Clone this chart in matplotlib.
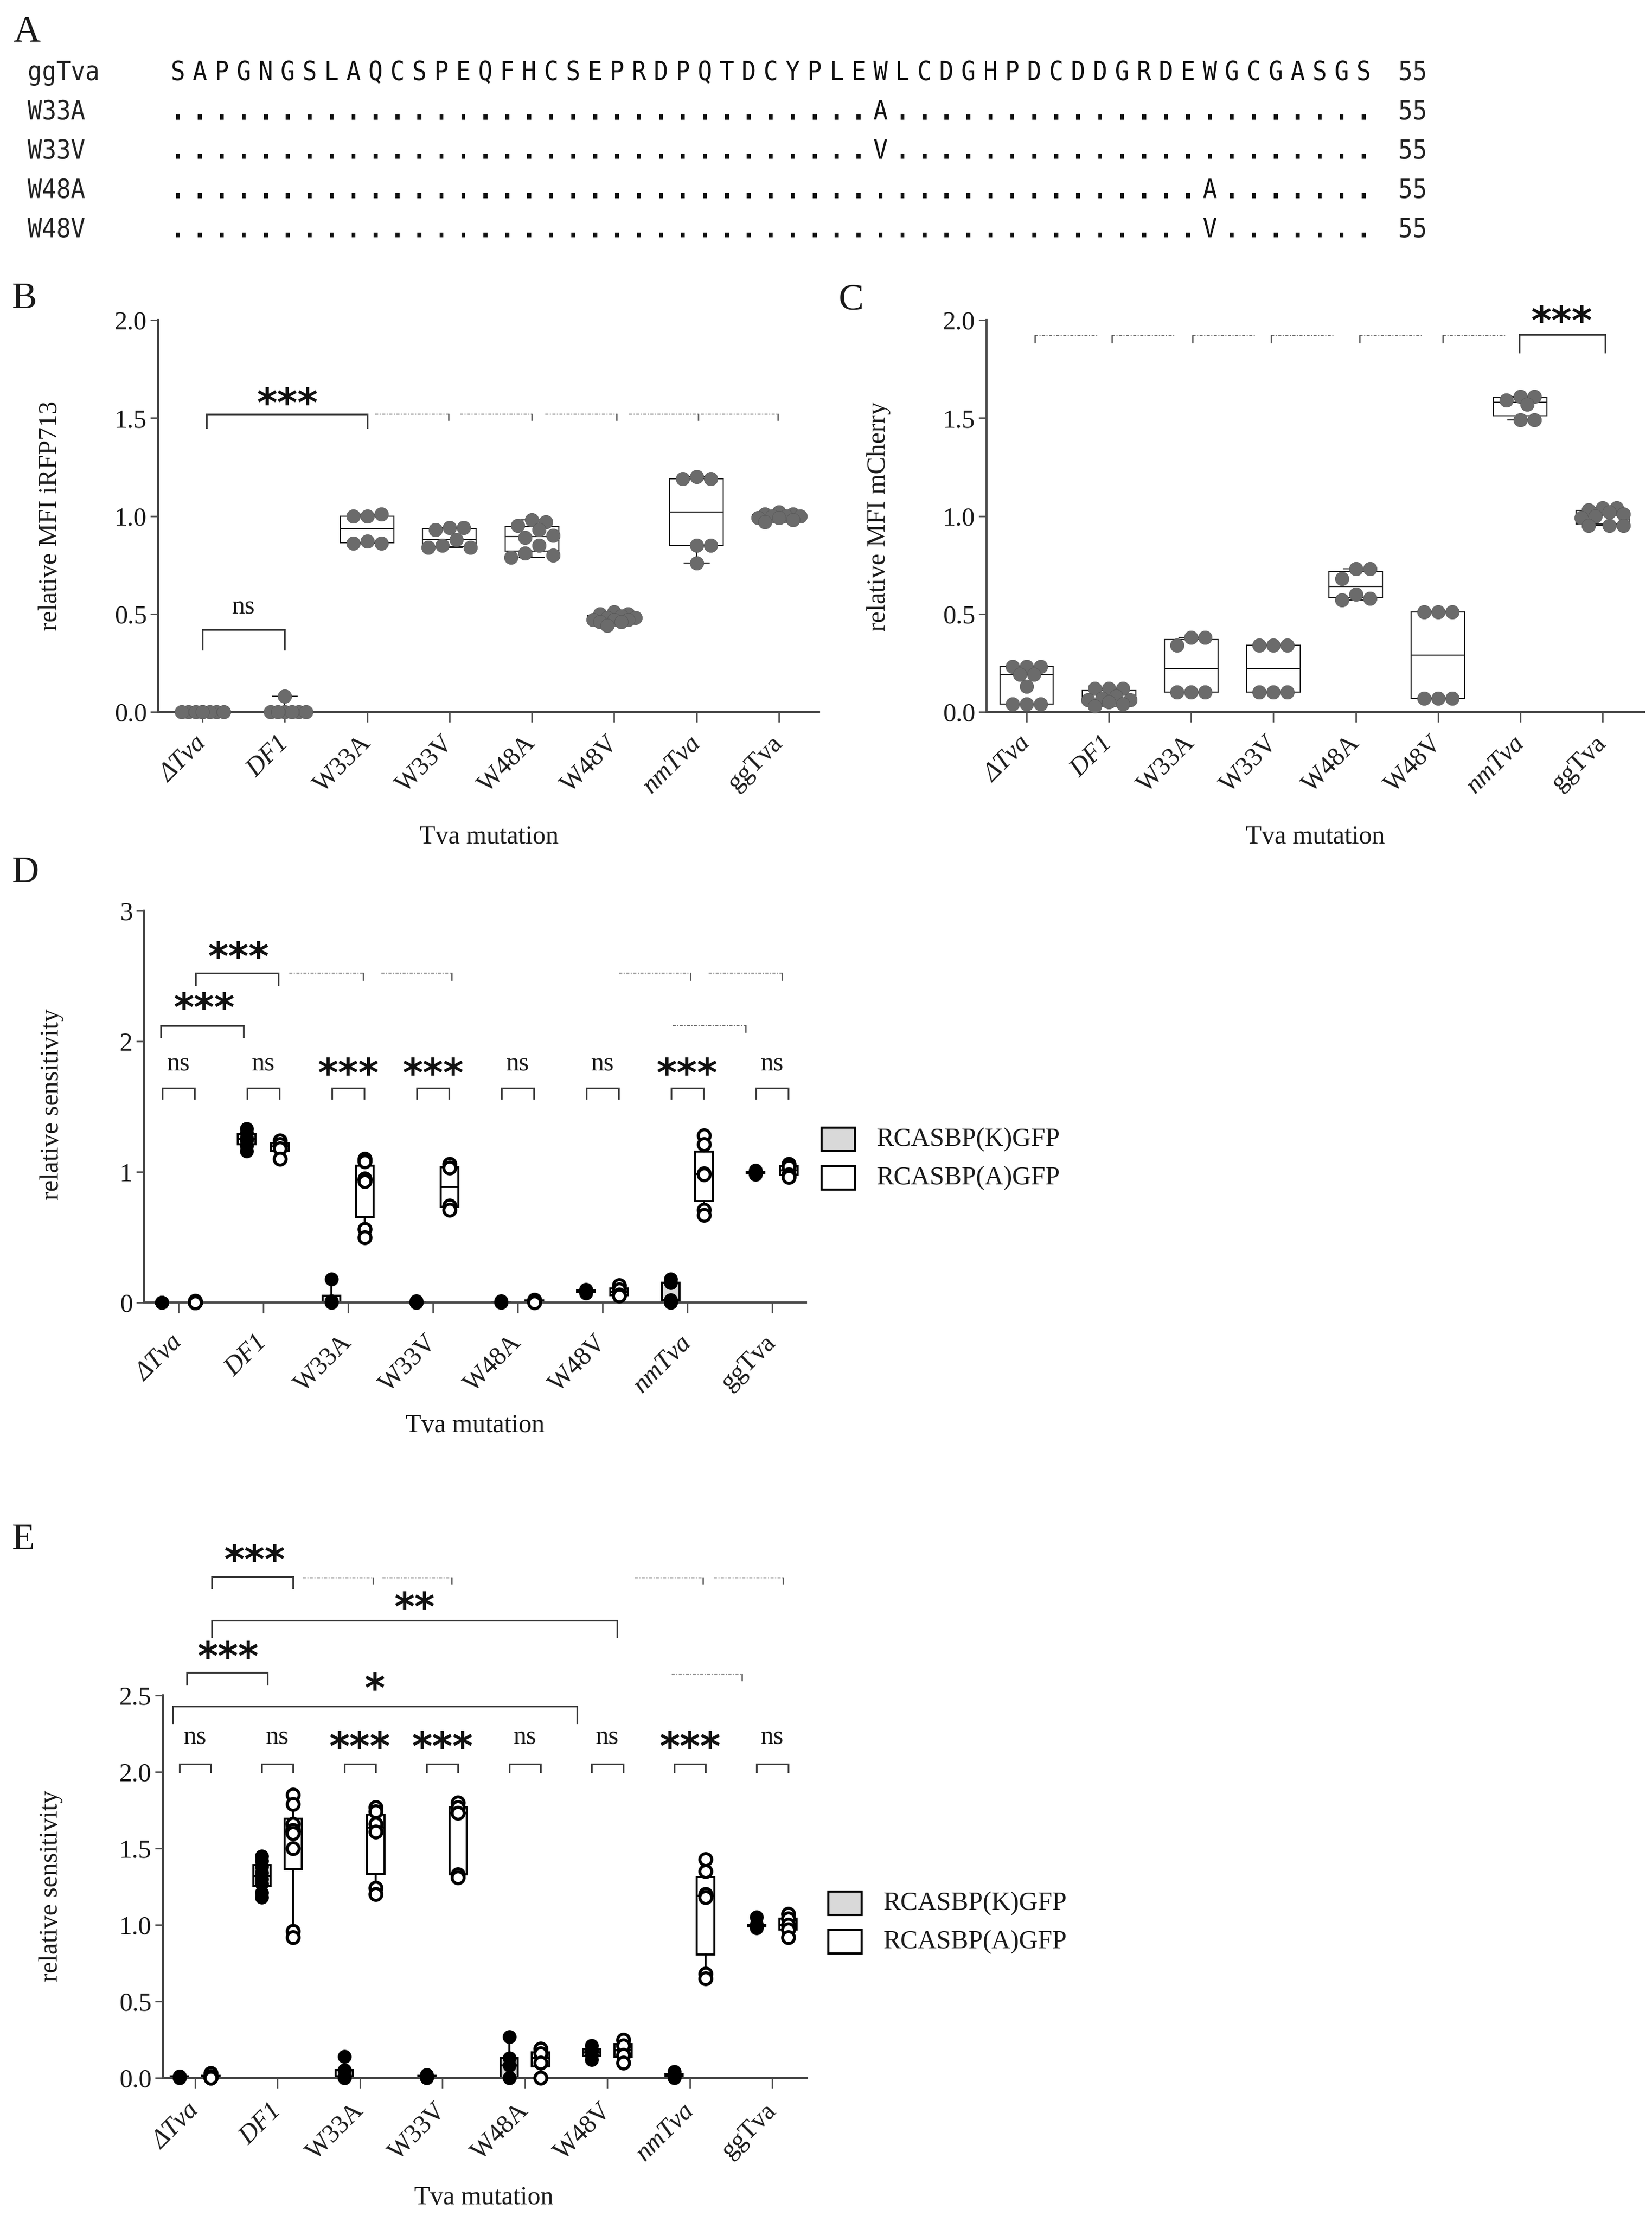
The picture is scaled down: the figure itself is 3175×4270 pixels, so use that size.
import numpy as np
import matplotlib.pyplot as plt
from matplotlib.patches import Rectangle, PathPatch
from matplotlib.textpath import TextPath
from matplotlib.font_manager import FontProperties
from matplotlib.transforms import Affine2D

plt.rcParams['font.family'] = ['Liberation Serif', 'DejaVu Serif']

W, H = 3175, 4270

groups = ['ΔTva', 'DF1', 'W33A', 'W33V', 'W48A', 'W48V', 'nmTva', 'ggTva']
italic_groups = ['ΔTva', 'DF1', 'nmTva']

# panel A - alignment
seq_ref = 'SAPGNGSLAQCSPEQFHCSEPRDPQTDCYPLEWLCDGHPDCDDGRDEWGCGASGS'
seq_names = ['ggTva', 'W33A', 'W33V', 'W48A', 'W48V']
mut_pos = [None, 33, 33, 48, 48]
mut_aa = [None, 'A', 'V', 'A', 'V']
seq_len = '55'

# panel B - relative MFI iRFP713
b_vals = [
    [0, 0, 0, 0, 0, 0, 0, 0],
    [0.08, 0, 0, 0, 0, 0, 0],
    [1.00, 1.01, 1.00, 0.87, 0.86, 0.86],
    [0.94, 0.94, 0.93, 0.88, 0.85, 0.84, 0.84],
    [0.98, 0.97, 0.95, 0.93, 0.90, 0.89, 0.85, 0.81, 0.80, 0.79],
    [0.51, 0.50, 0.50, 0.49, 0.48, 0.48, 0.47, 0.47, 0.47, 0.46, 0.46, 0.44],
    [1.20, 1.19, 1.19, 0.85, 0.85, 0.76],
    [1.02, 1.01, 1.01, 1.00, 1.00, 1.00, 0.99, 0.99, 0.98, 0.97],
]

# panel C - relative MFI mCherry
c_vals = [
    [0.23, 0.23, 0.23, 0.19, 0.19, 0.13, 0.04, 0.04, 0.04],
    [0.12, 0.12, 0.12, 0.08, 0.07, 0.06, 0.06, 0.05, 0.04, 0.03],
    [0.38, 0.38, 0.34, 0.10, 0.10, 0.10],
    [0.34, 0.34, 0.34, 0.10, 0.10, 0.10],
    [0.73, 0.73, 0.68, 0.60, 0.58, 0.57],
    [0.51, 0.51, 0.51, 0.07, 0.07, 0.07],
    [1.61, 1.61, 1.59, 1.57, 1.49, 1.49],
    [1.04, 1.04, 1.03, 1.02, 1.01, 1.00, 0.99, 0.95, 0.95, 0.95],
]

# panel D - relative sensitivity
d_k = [
    [0, 0, 0, 0, 0],
    [1.33, 1.30, 1.26, 1.24, 1.20, 1.16],
    [0.18, 0.01, 0, 0],
    [0.01, 0, 0, 0],
    [0.01, 0, 0],
    [0.10, 0.09, 0.07],
    [0.18, 0.15, 0.02, 0, 0],
    [1.01, 1.00, 1.00, 0.99, 0.98],
]
d_a = [
    [0.01, 0, 0, 0, 0],
    [1.24, 1.21, 1.18, 1.10],
    [1.10, 1.08, 0.95, 0.93, 0.56, 0.50],
    [1.06, 1.03, 0.74, 0.71],
    [0.02, 0.01, 0],
    [0.13, 0.10, 0.06, 0.05],
    [1.28, 1.21, 0.99, 0.98, 0.71, 0.67],
    [1.06, 1.04, 0.98, 0.96],
]
d_pair = ['ns', 'ns', '***', '***', 'ns', 'ns', '***', 'ns']

# panel E - relative sensitivity
e_k = [
    [0.01, 0.01, 0, 0],
    [1.45, 1.42, 1.38, 1.34, 1.30, 1.27, 1.21, 1.18],
    [0.14, 0.05, 0.01, 0, 0],
    [0.02, 0.01, 0, 0],
    [0.27, 0.13, 0.08, 0, 0],
    [0.21, 0.18, 0.15, 0.12],
    [0.04, 0.02, 0.01, 0],
    [1.05, 1.00, 1.00, 0.99, 0.98],
]
e_a = [
    [0.03, 0.01, 0, 0],
    [1.85, 1.79, 1.66, 1.62, 1.60, 1.50, 0.96, 0.92],
    [1.77, 1.74, 1.66, 1.61, 1.24, 1.20],
    [1.80, 1.77, 1.73, 1.33, 1.31],
    [0.19, 0.16, 0.10, 0],
    [0.25, 0.21, 0.15, 0.10],
    [1.43, 1.35, 1.20, 1.18, 0.68, 0.65],
    [1.07, 1.04, 1.00, 0.97, 0.92],
]
e_pair = ['ns', 'ns', '***', '***', 'ns', 'ns', '***', 'ns']

legend_labels = ['RCASBP(K)GFP', 'RCASBP(A)GFP']

AXC = '#4d4d4d'
TXT = '#1a1a1a'
BRC = '#3a3a3a'

fig = plt.figure(figsize=(W / 100, H / 100), dpi=100)


def fx(x):
    return x / W


def fy(y):
    return 1 - y / H


def add_axes(left, right, top, bottom):
    return fig.add_axes([fx(left), fy(bottom), (right - left) / W, (bottom - top) / H])


MONO = FontProperties(family='DejaVu Sans Mono')
MONO_B = FontProperties(family='DejaVu Sans Mono', weight='bold')


def mono_text(s, x_left, baseline, sx, sy, color='#111111', prop=MONO):
    # monospaced text drawn as a path, slightly condensed like the alignment in the figure
    tp = TextPath((0, 0), s, size=1, prop=prop)
    tr = Affine2D().scale(sx, sy).translate(x_left, H - baseline)
    fig.add_artist(PathPatch(tp, transform=tr, facecolor=color, edgecolor='none', lw=0))


def style_axes(ax, xlim, ylim, yticks, ylabels, xpad):
    ax.set_xlim(*xlim)
    ax.set_ylim(*ylim)
    for s in ['top', 'right']:
        ax.spines[s].set_visible(False)
    for s in ['left', 'bottom']:
        ax.spines[s].set_color(AXC)
        ax.spines[s].set_linewidth(3)
    ax.set_yticks(yticks)
    ax.set_yticklabels(ylabels)
    ax.set_xticks(range(len(groups)))
    ax.set_xticklabels(groups, rotation=45, ha='right', va='center', rotation_mode='anchor')
    ax.tick_params(axis='y', length=10.8, width=2, color=AXC, pad=5, labelsize=36, labelcolor=TXT)
    ax.tick_params(axis='x', length=14.4, width=2, color=AXC, pad=xpad, labelsize=36, labelcolor=TXT)
    for lab in ax.get_xticklabels():
        if lab.get_text() in italic_groups:
            lab.set_fontstyle('italic')
    ax.patch.set_alpha(0)


def swarm_x(ax, xc, vals, diam_px, max_px):
    to_px = ax.transData.transform
    x0 = to_px((xc, 0))[0]
    ux = to_px((xc + 1, 0))[0] - x0
    ys = [to_px((xc, v))[1] for v in vals]
    step = diam_px * 0.5
    cands = [0.0]
    k = 1
    while k * step <= max_px + 1e-9:
        cands += [k * step, -k * step]
        k += 1
    placed, out = [], []
    for y in ys:
        best, best_d = 0.0, -1
        for c in cands:
            d = min([np.hypot(c - px, y - py) for px, py in placed], default=1e9)
            if d >= diam_px * 0.9:
                best = c
                break
            if d > best_d:
                best_d, best = d, c
        placed.append((best, y))
        out.append(xc + best / ux)
    return out


def boxes(ax, pos, data, width, face, edge, lw, capw):
    ax.boxplot(data, positions=pos, widths=width, whis=(0, 100), showfliers=False,
               patch_artist=True, manage_ticks=False, capwidths=capw,
               boxprops=dict(facecolor=face, edgecolor=edge, linewidth=lw),
               medianprops=dict(color=edge, linewidth=lw),
               whiskerprops=dict(color=edge, linewidth=lw),
               capprops=dict(color=edge, linewidth=lw), zorder=2)


def bracket(ax, x1, x2, y, tip, lw=2.3):
    ax.plot([x1, x1, x2, x2], [y - tip, y, y, y - tip], color=BRC, lw=lw,
            clip_on=False, solid_joinstyle='miter')


def label(ax, x, y, s):
    if s == 'ns':
        ax.annotate(s, (x, y), xytext=(0, -8), textcoords='offset points', ha='center',
                    va='baseline', fontsize=36, color=TXT, annotation_clip=False)
    else:
        ax.annotate(s, (x, y), xytext=(0, -30), textcoords='offset points', ha='center',
                    va='baseline', fontsize=54, fontweight='bold', family='DejaVu Sans',
                    color='#111111', annotation_clip=False)


def dotted(ax, x1, x2, y, hook, side):
    ax.plot([x1, x2], [y, y], color='#7a7a7a', lw=1.4, ls=(0, (3, 1.5, 1, 1.5)), clip_on=False)
    hx = x2 if side == 'right' else x1
    ax.plot([hx, hx], [y, y - hook], color='#555555', lw=1.8, clip_on=False)


# ---------------- panel A ----------------
fig.text(fx(25), fy(80), 'A', fontsize=52, va='baseline', ha='left', color=TXT)
SEQ_C0, SEQ_STEP = 342, 42.2
SX, SY = 46, 51
for r, name in enumerate(seq_names):
    base = 154 + 75.5 * r
    mono_text(name, 53, base, SX, SY, color='#222222')
    for i, ch in enumerate(seq_ref):
        x_left = SEQ_C0 + SEQ_STEP * i - 0.301 * SX
        if r == 0:
            mono_text(ch, x_left, base, SX, SY)
        elif i + 1 == mut_pos[r]:
            mono_text(mut_aa[r], x_left, base, SX, SY)
        else:
            mono_text('.', x_left, base, SX, SY, prop=MONO_B)
    mono_text(seq_len, 2715 - 0.602 * SX, base, SX, SY, color='#222222')

# ---------------- panel B ----------------
axB = add_axes(304, 1574, 615, 1368)
boxes(axB, range(8), b_vals, 0.65, 'white', '#222222', 1.6, 0.3)
style_axes(axB, (-0.537, 7.486), (0, 2.0), [0, 0.5, 1.0, 1.5, 2.0],
           ['0.0', '0.5', '1.0', '1.5', '2.0'], 24)
for i, v in enumerate(b_vals):
    xs = swarm_x(axB, i, v, 27, 50)
    axB.scatter(xs, v, s=360, color='#6b6b6b', edgecolors='#555555', linewidths=0.5, zorder=3, clip_on=False)
bracket(axB, 0.05, 2.0, 1.52, 0.07)
label(axB, 1.03, 1.62, '***')
bracket(axB, 0, 1, 0.42, 0.10)
label(axB, 0.5, 0.53, 'ns')
for x1, x2 in [(2.10, 2.99), (3.13, 4.0), (4.16, 5.03), (5.18, 6.02), (6.05, 6.99)]:
    dotted(axB, x1, x2, 1.52, 0.03, 'right')
fig.text(fx(23), fy(592), 'B', fontsize=52, va='baseline', ha='left', color=TXT)
fig.text(fx(97), fy(991), 'relative MFI iRFP713', fontsize=36, rotation=90, ha='center', va='center', color=TXT)
fig.text(fx(940), fy(1609), 'Tva mutation', fontsize=36, ha='center', va='center', color=TXT)

# ---------------- panel C ----------------
axC = add_axes(1896, 3160, 615, 1368)
boxes(axC, range(8), c_vals, 0.65, 'white', '#222222', 1.6, 0.3)
style_axes(axC, (-0.487, 7.506), (0, 2.0), [0, 0.5, 1.0, 1.5, 2.0],
           ['0.0', '0.5', '1.0', '1.5', '2.0'], 24)
for i, v in enumerate(c_vals):
    xs = swarm_x(axC, i, v, 27, 50)
    axC.scatter(xs, v, s=360, color='#6b6b6b', edgecolors='#555555', linewidths=0.5, zorder=3, clip_on=False)
bracket(axC, 5.99, 7.03, 1.926, 0.09)
label(axC, 6.5, 2.04, '***')
for x1, x2 in [(0.10, 0.87), (1.04, 1.80), (2.02, 2.79), (2.97, 3.73), (4.05, 4.82), (5.06, 5.83)]:
    dotted(axC, x1, x2, 1.92, 0.035, 'left')
fig.text(fx(1612), fy(596), 'C', fontsize=52, va='baseline', ha='left', color=TXT)
fig.text(fx(1689), fy(992), 'relative MFI mCherry', fontsize=36, rotation=90, ha='center', va='center', color=TXT)
fig.text(fx(2528), fy(1609), 'Tva mutation', fontsize=36, ha='center', va='center', color=TXT)


# ---------------- panels D / E ----------------
def paired_panel(ax, kvals, avals, off, xlim, ylim, yticks, ylabels, xpad):
    kpos = [i - off for i in range(8)]
    apos = [i + off for i in range(8)]
    boxes(ax, kpos, kvals, 0.21, '#d9d9d9', 'black', 2.8, 0.12)
    boxes(ax, apos, avals, 0.21, 'white', 'black', 2.8, 0.12)
    style_axes(ax, xlim, ylim, yticks, ylabels, xpad)
    for i in range(8):
        xs = swarm_x(ax, kpos[i], kvals[i], 26, 12)
        ax.scatter(xs, kvals[i], s=330, color='black', zorder=3, clip_on=False)
        xs = swarm_x(ax, apos[i], avals[i], 28, 12)
        ax.scatter(xs, avals[i], s=270, facecolor='white', edgecolors='black', linewidths=4.2,
                   zorder=4, clip_on=False)


def legend(x_box, y_rows):
    for lab, face, yc in zip(legend_labels, ['#d9d9d9', 'white'], y_rows):
        fig.patches.append(Rectangle((fx(x_box), fy(yc + 22)), 64 / W, 45 / H, transform=fig.transFigure,
                                     facecolor=face, edgecolor='black', lw=3))
        fig.text(fx(x_box + 106), fy(yc), lab, fontsize=36, va='center', ha='left', color=TXT)


axD = add_axes(277, 1549, 1750, 2503)
paired_panel(axD, d_k, d_a, 0.196, (-0.405, 7.40), (0, 3), [0, 1, 2, 3], ['0', '1', '2', '3'], 36)
for i, s in enumerate(d_pair):
    bracket(axD, i - 0.19, i + 0.19, 1.64, 0.08)
    label(axD, i, 1.82, s)
bracket(axD, -0.21, 0.77, 2.12, 0.09)
label(axD, 0.30, 2.32, '***')
bracket(axD, 0.2, 1.18, 2.52, 0.09)
label(axD, 0.71, 2.71, '***')
for x1, x2 in [(1.31, 2.18), (2.39, 3.22), (5.2, 6.04), (6.25, 7.12)]:
    dotted(axD, x1, x2, 2.52, 0.05, 'right')
dotted(axD, 5.83, 6.69, 2.12, 0.05, 'right')
fig.text(fx(23), fy(1695), 'D', fontsize=52, va='baseline', ha='left', color=TXT)
fig.text(fx(100), fy(2122), 'relative sensitivity', fontsize=36, rotation=90, ha='center', va='center', color=TXT)
fig.text(fx(913), fy(2740), 'Tva mutation', fontsize=36, ha='center', va='center', color=TXT)
legend(1579, [2190, 2264])

axE = add_axes(313, 1551, 3258, 3993)
paired_panel(axE, e_k, e_a, 0.19, (-0.39, 7.42), (0, 2.5), [0, 0.5, 1.0, 1.5, 2.0, 2.5],
             ['0.0', '0.5', '1.0', '1.5', '2.0', '2.5'], 26)
for i, s in enumerate(e_pair):
    bracket(axE, i - 0.19, i + 0.19, 2.05, 0.05)
    label(axE, i, 2.22, s)
bracket(axE, -0.27, 4.63, 2.43, 0.11)
label(axE, 2.18, 2.60, '*')
bracket(axE, -0.1, 0.88, 2.65, 0.08)
label(axE, 0.40, 2.81, '***')
bracket(axE, 0.2, 5.12, 2.99, 0.11)
label(axE, 2.66, 3.13, '**')
bracket(axE, 0.2, 1.19, 3.275, 0.075)
label(axE, 0.72, 3.44, '***')
for x1, x2 in [(1.31, 2.16), (2.27, 3.11), (5.33, 6.16), (6.29, 7.13)]:
    dotted(axE, x1, x2, 3.27, 0.04, 'right')
dotted(axE, 5.78, 6.63, 2.64, 0.04, 'right')
fig.text(fx(23), fy(2977), 'E', fontsize=52, va='baseline', ha='left', color=TXT)
fig.text(fx(98), fy(3624), 'relative sensitivity', fontsize=36, rotation=90, ha='center', va='center', color=TXT)
fig.text(fx(930), fy(4224), 'Tva mutation', fontsize=36, ha='center', va='center', color=TXT)
legend(1592, [3658, 3732])

fig.savefig('out.png', dpi=100, facecolor='white')
